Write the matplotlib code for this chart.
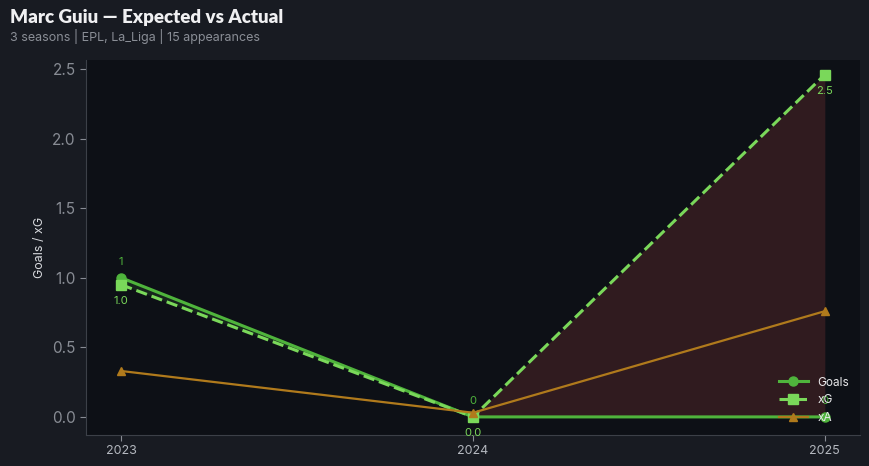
import matplotlib
matplotlib.use("Agg")
import matplotlib.pyplot as plt
import numpy as np

seasons = [2023, 2024, 2025]
goals = [1, 0, 0]
xg = [0.95, 0.0, 2.46]
xa = [0.33, 0.03, 0.76]
goal_labels = ["1", "0", "0"]
xg_labels = ["1.0", "0.0", "2.5"]

plt.rcParams['font.family'] = ['Inter', 'DejaVu Sans']

fig = plt.figure(figsize=(8.69, 4.66), dpi=100)
fig.patch.set_facecolor('#181b22')
ax = fig.add_axes([86/869, 1-435/466, (860-86)/869, (435-60)/466])
ax.set_facecolor('#0d1016')

c_goals = '#4fb43c'
c_xg = '#7ad85a'
c_xa = '#b07a1c'

x = np.array(seasons, dtype=float)
g = np.array(goals, dtype=float)
e = np.array(xg, dtype=float)
ax.fill_between(x, g, e, where=e >= g, interpolate=True, color='#3a1f22', alpha=0.8, linewidth=0)
ax.fill_between(x, g, e, where=e < g, interpolate=True, color='#1f3a22', alpha=0.5, linewidth=0)

ax.plot(x, g, color=c_goals, lw=2.2, marker='o', ms=6.5, label='Goals')
ax.plot(x, e, color=c_xg, lw=2.2, ls='--', marker='s', ms=6.5, label='xG')
ax.plot(x, xa, color=c_xa, lw=1.6, marker='^', ms=6, label='xA')

for xi, yi, lab in zip(x, g, goal_labels):
    ax.annotate(lab, (xi, yi), xytext=(0, 8), textcoords='offset points', ha='center', va='bottom',
                color=c_goals, fontsize=8)
for xi, yi, lab in zip(x, e, xg_labels):
    ax.annotate(lab, (xi, yi), xytext=(0, -8), textcoords='offset points', ha='center', va='top',
                color=c_xg, fontsize=8)

ax.set_xlim(2022.9, 2025.1)
ax.set_ylim(-0.13, 2.565)
ax.set_xticks(seasons)
ax.set_xticklabels([str(s) for s in seasons])
ax.set_yticks([0, 0.5, 1.0, 1.5, 2.0, 2.5])
ax.tick_params(axis='x', colors='#888c94', labelsize=9, length=4)
ax.tick_params(axis='y', colors='#888c94', labelsize=11, length=4)
for lab in ax.get_xticklabels():
    lab.set_color('#b4b8bf')
for sp in ['top', 'right']:
    ax.spines[sp].set_visible(False)
for sp in ['left', 'bottom']:
    ax.spines[sp].set_color('#3c4048')
ax.set_ylabel('Goals / xG', color='#d8dade', fontsize=9)

leg = ax.legend(loc='lower right', frameon=False, fontsize=8.5, labelcolor='#e8e8ea',
                bbox_to_anchor=(1.0, 0.0), handlelength=2.5)

fig.text(10/869, 1-17/466, 'Marc Guiu — Expected vs Actual', fontsize=13.5, fontweight='heavy',
         color='#f0f0f2', family=['Lato', 'DejaVu Sans'], va='center', ha='left')
fig.text(10/869, 1-37/466, '3 seasons | EPL, La_Liga | 15 appearances', fontsize=9,
         color='#8a8e96', va='center', ha='left')

fig.savefig('out.png', dpi=100, facecolor=fig.get_facecolor())
